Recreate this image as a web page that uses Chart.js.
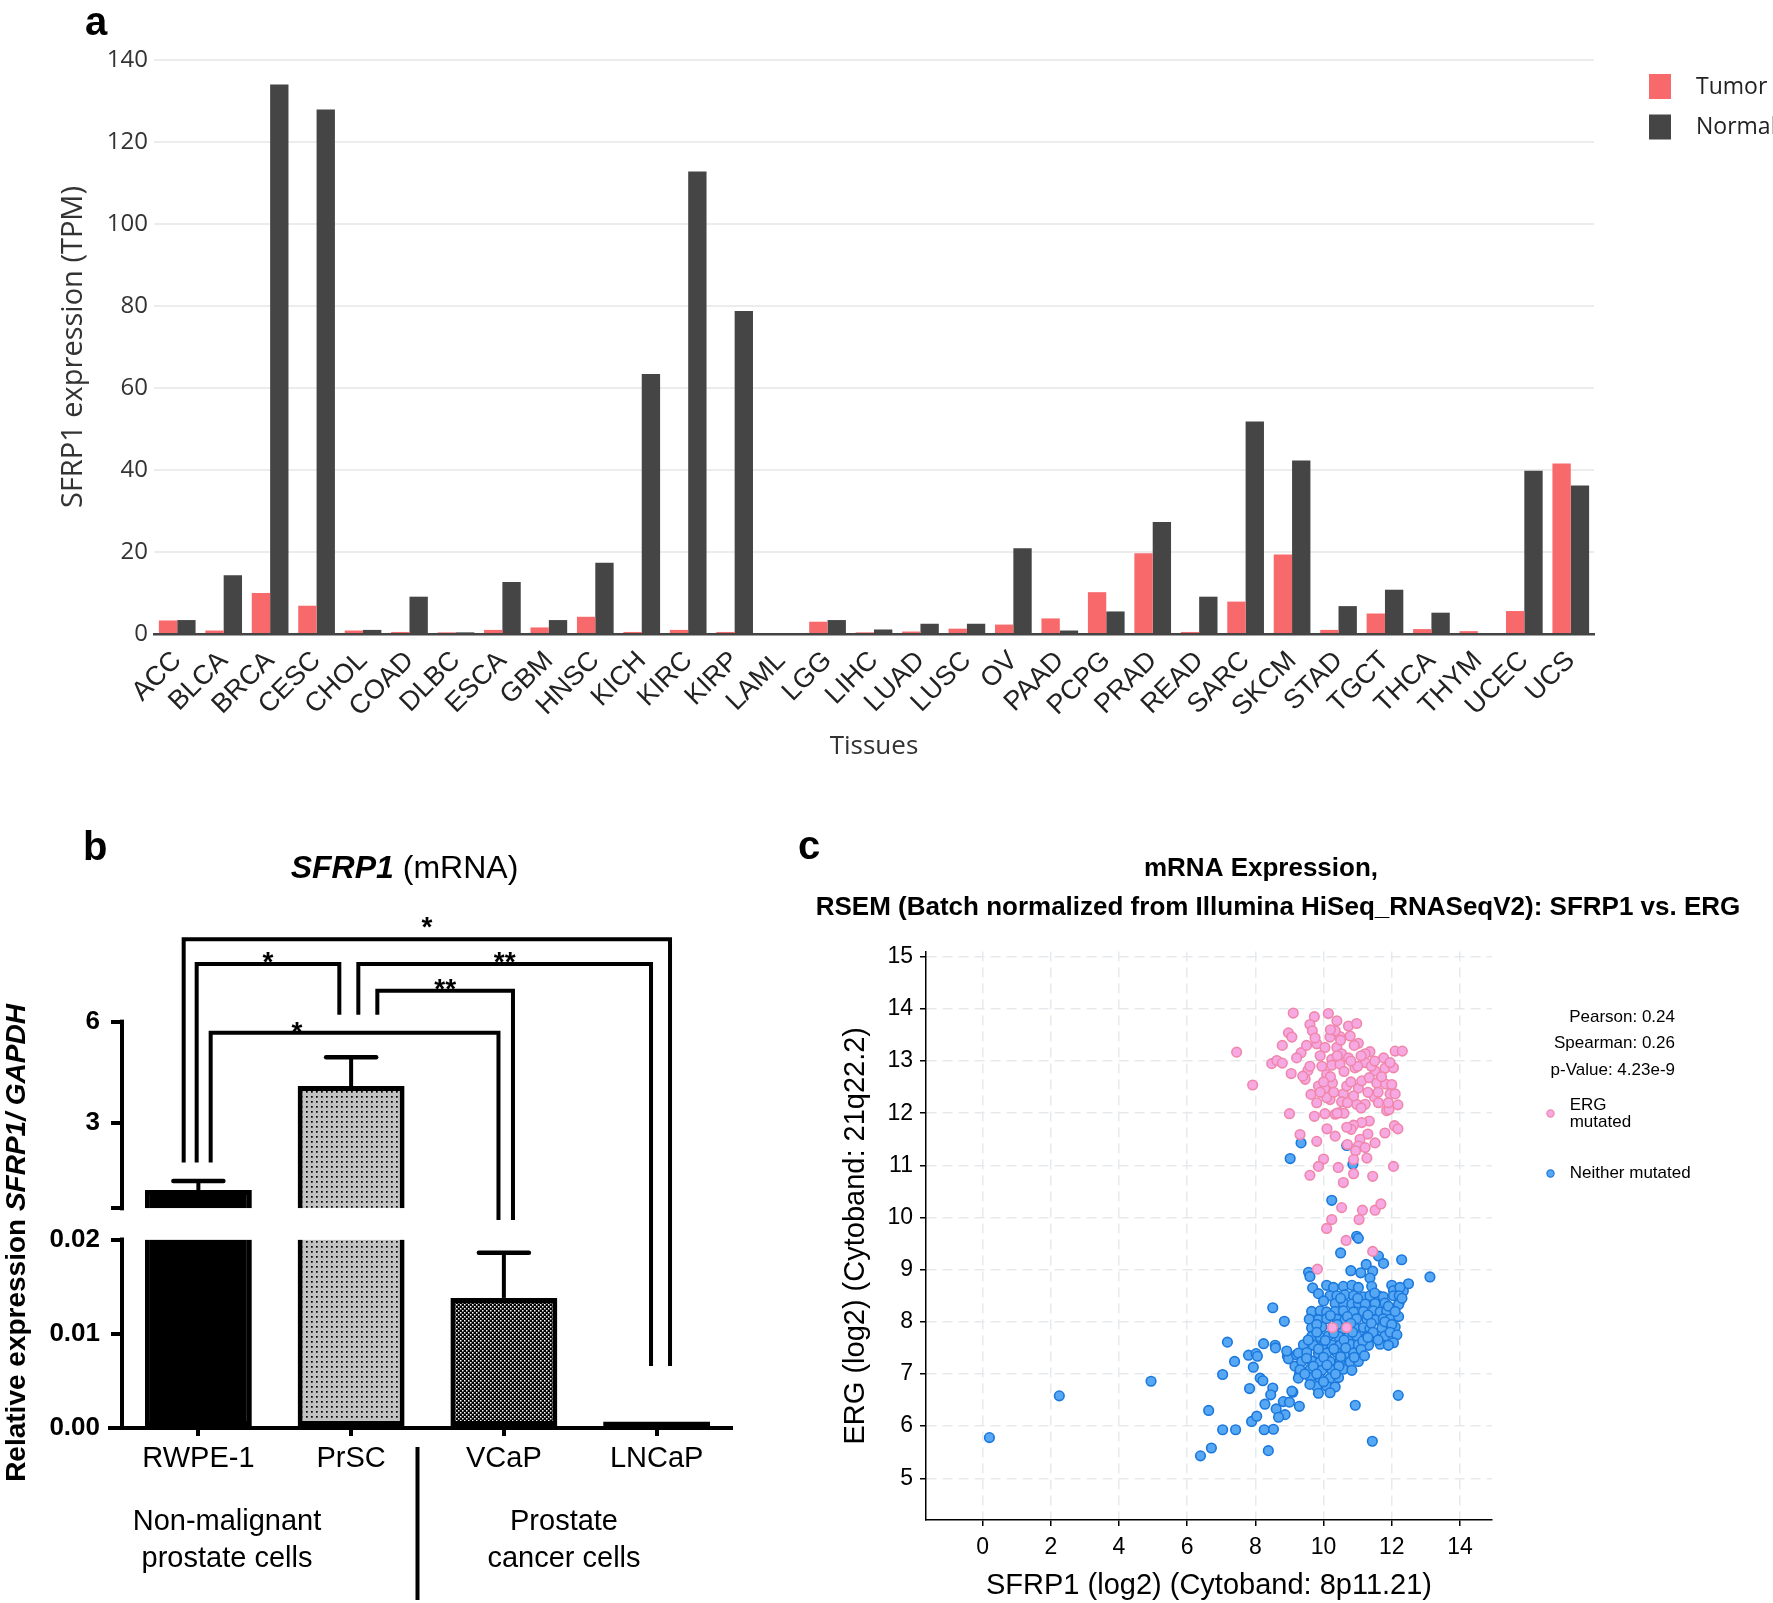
<!DOCTYPE html>
<html><head><meta charset="utf-8">
<script src="https://cdn.jsdelivr.net/npm/chart.js@4.4.1/dist/chart.umd.min.js"></script>
<style>
html,body{margin:0;padding:0;background:#fff;width:1773px;height:1603px;overflow:hidden}
canvas.cv{position:absolute;left:0;top:0;width:1773px;height:1603px}
</style></head><body>
<canvas id="ca" class="cv" width="1773" height="1603"></canvas>
<canvas id="cb" class="cv" width="1773" height="1603"></canvas>
<canvas id="cc" class="cv" width="1773" height="1603"></canvas>
<script>
// ---------------- DATA ----------------
// Panel a
const tissues = ['ACC','BLCA','BRCA','CESC','CHOL','COAD','DLBC','ESCA','GBM','HNSC','KICH','KIRC','KIRP','LAML','LGG','LIHC','LUAD','LUSC','OV','PAAD','PCPG','PRAD','READ','SARC','SKCM','STAD','TGCT','THCA','THYM','UCEC','UCS'];
const tumorTPM  = [3.3,0.85,10.0,6.9,0.85,0.5,0.4,1.0,1.6,4.2,0.5,1.0,0.5,0,3.0,0.4,0.6,1.3,2.3,3.8,10.2,19.7,0.5,7.9,19.4,1.0,5.0,1.2,0.7,5.6,41.6];
const normalTPM = [3.4,14.3,134.0,127.9,1.0,9.1,0.4,12.7,3.4,17.4,63.4,112.8,78.8,0,3.4,1.1,2.5,2.5,20.9,0.85,5.5,27.3,9.1,51.8,42.3,6.8,10.8,5.2,0.2,39.8,36.2];
const tpmTicks = [0,20,40,60,80,100,120,140];

// Panel b
const cellLines = ['RWPE-1','PrSC','VCaP','LNCaP'];
const relExpr = [1.03, 4.10, 0.0138, 0.0007];
const relSEM  = [0.27, 0.85, 0.0048, 0];
const upperTicks = [3, 6];
const lowerTicks = [0, 0.01, 0.02];
const groupNames = [['Non-malignant','prostate cells'],['Prostate','cancer cells']];
const comparisons = [[0,3,'*'],[0,1,'*'],[1,3,'**'],[1,2,'**'],[0,2,'*']];

// Panel c
const corrStats = ['Pearson: 0.24','Spearman: 0.26','p-Value: 4.23e-9'];
const xTicksC = [0,2,4,6,8,10,12,14];
const yTicksC = [5,6,7,8,9,10,11,12,13,14,15];
const ergMutated = [
[9.11,13.92],[9.73,13.85],[10.14,13.91],[10.39,13.77],[9.60,13.70],[9.67,13.58],[10.73,13.67],[10.97,13.72],[8.97,13.54],[9.07,13.46],
[10.19,13.46],[10.48,13.47],[10.78,13.48],[10.34,13.58],[8.79,13.30],[9.80,13.33],[9.75,13.44],[11.02,13.34],[9.34,13.16],[9.21,13.06],
[8.48,12.95],[8.63,13.01],[8.79,12.96],[9.05,12.76],[9.54,12.82],[9.46,12.65],[9.39,12.71],[10.04,13.26],[10.39,13.26],[10.53,13.14],
[10.73,13.06],[10.24,13.03],[9.95,12.90],[10.09,12.74],[10.24,12.92],[10.48,12.94],[10.92,12.87],[11.22,12.97],[11.36,13.18],[11.22,13.14],
[11.51,12.81],[11.80,12.86],[11.76,13.06],[12.10,13.19],[12.31,13.19],[12.05,12.87],[11.95,12.97],[9.85,12.52],[9.63,12.36],[10.04,12.48],
[10.26,12.58],[10.58,12.37],[10.68,12.52],[11.02,12.48],[11.12,12.62],[11.34,12.68],[11.56,12.58],[11.82,12.56],[12.00,12.55],[11.95,12.37],
[12.10,12.37],[11.49,12.31],[11.22,12.17],[10.97,12.17],[10.88,12.33],[10.53,12.22],[10.19,12.26],[10.09,12.30],[10.48,12.01],[10.34,11.98],
[10.04,11.99],[9.73,11.94],[9.00,11.99],[11.85,12.05],[11.92,12.07],[12.18,12.16],[11.61,12.20],[11.34,11.85],[11.12,11.82],[10.88,11.77],
[10.81,11.69],[10.68,11.73],[10.34,11.56],[9.80,11.46],[9.31,11.59],[11.80,11.62],[12.08,11.76],[12.18,11.70],[11.51,11.43],[11.07,11.50],
[11.02,11.37],[11.22,11.34],[10.94,11.28],[11.27,11.14],[10.88,11.11],[10.00,11.12],[9.85,10.98],[10.43,10.96],[12.05,10.98],[7.45,13.17],
[7.92,12.54],
[10.2,12.7],[10.6,12.8],[10.8,12.6],[11.0,12.9],[10.4,13.1],[10.9,13.3],[11.3,12.4],[10.0,12.6],[9.9,13.1],[10.7,12.2],
[11.1,12.1],[11.4,12.9],[10.3,12.4],[9.6,12.9],[9.8,12.2],[10.5,13.4],[11.6,12.4],[11.1,13.1],[10.6,12.0],[10.2,13.6],
[9.5,13.3],[11.7,12.7],[10.8,13.0],[11.5,13.0],[9.9,12.4],[10.4,12.0],[11.9,12.2],[10.1,11.7],[10.7,11.4],[11.3,11.6],
[9.60,10.81],[10.58,10.67],[10.88,10.84],[11.44,10.79],[10.53,10.19],[11.14,10.14],[11.51,10.14],[11.68,10.26],[10.24,9.96],[10.09,9.79],
[11.04,9.96],[10.66,9.56],[11.44,9.35],[9.82,9.01],[10.26,7.89],[10.68,7.89]
];
const neitherMutated = [
[0.2,5.78],[2.25,6.58],[4.94,6.86],
[7.18,7.61],[7.39,7.24],[7.04,6.99],[6.63,6.30],[7.04,5.93],[7.42,5.93],[6.71,5.58],[6.39,5.43],[8.38,5.53],
[10.24,10.33],[10.97,9.64],[11.02,9.60],[10.50,9.32],[11.61,9.26],[11.76,9.12],[12.29,9.19],[13.12,8.86],[9.56,8.95],[9.60,8.87],
[10.80,8.98],[11.09,8.94],[11.25,9.10],[11.44,8.97],[11.36,8.84],[9.68,8.65],[9.85,8.54],[10.09,8.70],[12.00,8.70],[12.05,8.60],
[12.34,8.59],[12.49,8.73],[12.22,8.44],[12.22,8.37],[8.51,8.27],[8.85,8.01],[7.80,7.36],[8.02,7.39],[8.06,7.34],[7.94,7.13],
[8.24,7.58],[8.58,7.55],[8.59,7.50],[8.14,6.92],[8.22,6.87],[7.83,6.72],[8.51,6.73],[8.45,6.60],[8.28,6.42],[8.61,6.33],
[8.82,6.47],[8.87,6.22],[8.68,6.17],[7.89,6.09],[8.04,6.19],[8.26,5.93],[8.53,5.94],[9.10,6.65],[9.00,6.46],[9.29,6.38],
[8.94,7.34],[8.97,7.29],[9.21,7.37],[10.93,6.40],[11.43,5.71],[12.19,6.59],
[8.92,7.44],[9.16,7.15],[9.29,6.99],[9.07,6.67],
[9.34,11.43],[9.02,11.13],[10.68,11.38],[10.86,11.02],
[10.29,8.66],[10.58,8.68],[10.83,8.70],[11.02,8.66],[11.41,8.68],[12.24,8.66],
[10.19,8.50],[10.39,8.50],[10.63,8.52],[10.88,8.50],[11.17,8.48],[11.36,8.50],[11.61,8.50],[11.75,8.48],[12.05,8.50],[12.22,8.50],
[10.34,8.35],[10.58,8.36],[10.83,8.34],[11.02,8.36],[11.22,8.34],[11.51,8.35],[11.80,8.36],[12.20,8.33],
[9.65,8.20],[9.90,8.21],[10.09,8.19],[10.34,8.20],[10.58,8.21],[10.88,8.19],[11.17,8.20],[11.46,8.21],[11.66,8.19],[11.85,8.20],
[9.58,8.05],[9.85,8.04],[10.09,8.06],[10.39,8.05],[10.63,8.04],[10.97,8.06],[11.27,8.05],[11.51,8.04],[11.75,8.06],[11.95,8.05],
[9.65,7.88],[9.95,7.90],[10.29,7.87],[10.53,7.86],[10.92,7.88],[11.17,7.89],[11.36,7.87],[11.71,7.88],[12.10,7.90],
[9.65,7.72],[9.90,7.71],[10.14,7.73],[10.44,7.72],[10.73,7.71],[10.97,7.73],[11.27,7.72],[11.51,7.71],[11.80,7.73],
[9.41,7.56],[9.70,7.55],[10.00,7.57],[10.24,7.56],[10.48,7.55],[10.78,7.57],[11.02,7.56],[11.32,7.55],[11.66,7.57],
[9.26,7.40],[9.51,7.41],[9.85,7.39],[10.09,7.40],[10.39,7.41],[10.63,7.39],[10.88,7.40],
[9.36,7.24],[9.65,7.25],[9.90,7.23],[10.19,7.24],[10.48,7.25],[10.78,7.23],[11.02,7.24],
[9.31,7.08],[9.61,7.09],[9.95,7.07],[10.24,7.08],[10.58,7.09],[10.83,7.07],
[9.26,6.92],[9.61,6.93],[9.90,6.91],[10.19,6.92],[10.44,6.93],
[9.80,6.76],[10.09,6.77],[10.34,6.75],[9.85,6.63],[10.19,6.64],
[10.0,8.40],[10.5,8.45],[11.0,8.45],[11.5,8.55],[11.9,8.30],[10.2,8.12],[10.7,8.10],[11.3,8.13],[11.8,8.00],[9.8,7.95],
[10.4,7.95],[10.8,7.97],[11.4,7.97],[12.0,7.95],[9.8,7.80],[10.3,7.78],[10.85,7.80],[11.45,7.80],[11.95,7.80],[9.55,7.65],
[10.05,7.64],[10.6,7.65],[11.15,7.63],[11.6,7.65],[9.85,7.48],[10.3,7.48],[10.65,7.50],[11.1,7.47],[9.5,7.30],[10.0,7.32],
[10.5,7.33],[10.9,7.32],[9.7,7.15],[10.1,7.17],[10.45,7.15],[9.45,7.00],[9.8,7.00],[10.35,7.00],[9.6,6.80],[10.0,6.85],
[11.2,7.35],[11.3,7.70],[12.2,8.10],[12.15,7.75],[12.05,7.60],[11.9,7.55],[12.1,8.20],[12.3,8.45]
];

// ---------------- STYLE HELPERS ----------------
const FS = '"Liberation Sans", Arial, Helvetica, sans-serif';
const FO = '"Open Sans", "Liberation Sans", sans-serif';
function fixW(w){ return s => { s.width = w; }; }
function fixH(h){ return s => { s.height = h; }; }
function setTicks(list){ return s => { s.ticks = list.map(v => ({value: v})); }; }
function panelLetter(letter, x, y){
  return {id:'letter'+letter, afterDraw(chart){ const c=chart.ctx; c.save(); c.font='bold 40px '+FS; c.fillStyle='#000'; c.textBaseline='alphabetic'; c.textAlign='left'; c.fillText(letter,x,y); c.restore(); }};
}

// ---------------- PANEL A ----------------
const legendA = {id:'legendA', afterDraw(chart){
  const c = chart.ctx; c.save();
  chart.data.datasets.forEach((ds,i)=>{
    const y = 74 + i*40.5;
    c.fillStyle = ds.backgroundColor; c.fillRect(1649, y, 22, 25);
    c.fillStyle = '#222'; c.font = '23px '+FO; c.textBaseline='middle'; c.textAlign='left';
    c.fillText(ds.label, 1696, y+13);
  });
  c.restore();
}};
new Chart(document.getElementById('ca'), {
  type:'bar',
  data:{labels:tissues, datasets:[
    {label:'Tumor', data:tumorTPM, backgroundColor:'#f8696b', categoryPercentage:0.79, barPercentage:1},
    {label:'Normal', data:normalTPM, backgroundColor:'#454545', categoryPercentage:0.79, barPercentage:1}
  ]},
  options:{responsive:false, animation:false, events:[], devicePixelRatio:1,
    layout:{padding:{left:50, top:60, right:179, bottom:837}},
    plugins:{legend:{display:false}, tooltip:{enabled:false}},
    scales:{
      x:{grid:{display:false, drawTicks:false}, border:{color:'#444', width:2.5},
         ticks:{autoSkip:false, minRotation:45, maxRotation:45, color:'#222', padding:11, font:{family:FS, size:27}},
         title:{display:true, text:'Tissues', color:'#333', font:{family:FO, size:26}, padding:{top:0,bottom:4}},
         afterFit:fixH(132)},
      y:{min:0, max:140, afterBuildTicks:setTicks(tpmTicks),
         grid:{color:'#ececec', lineWidth:2, drawTicks:false}, border:{display:false},
         ticks:{color:'#333', padding:6, font:{family:FO, size:24}},
         title:{display:true, text:'SFRP1 expression (TPM)', color:'#333', font:{family:FO, size:29}, padding:{top:6,bottom:0}},
         afterFit:fixW(104)}
    }},
  plugins:[legendA, panelLetter('a',85,35)]
});

// ---------------- PANEL B ----------------
const UPPER_MIN = -0.43, UPPER_MAX = 9.59, BREAK_VAL = 0.49, LOWER_MAX = 0.02;
function makePattern(size, bg, fg, cells){
  const cv = document.createElement('canvas'); cv.width = size; cv.height = size;
  const g = cv.getContext('2d'); g.fillStyle = bg; g.fillRect(0,0,size,size);
  g.fillStyle = fg; cells.forEach(r => g.fillRect(r[0],r[1],r[2],r[3]));
  return g.createPattern(cv, 'repeat');
}
const dotFill = makePattern(5, '#c2c2c2', '#000', [[1,1,1.7,1.7]]);
const checkFill = makePattern(4, '#000', '#fff', [[0,0,1.5,1.5],[2,2,1.5,1.5]]);
const barFills = ['#000', dotFill, checkFill, '#000'];

const annotB = {id:'annotB', afterDraw(chart){
  const c = chart.ctx, xs = chart.scales.x, yT = chart.scales.yTop, yB = chart.scales.yBot, ca = chart.chartArea;
  c.save();
  c.strokeStyle = '#000'; c.fillStyle = '#000';
  // axis lines (broken y axis)
  c.lineWidth = 4; c.lineCap = 'butt';
  c.beginPath(); c.moveTo(ca.left, yT.getPixelForValue(6)-2); c.lineTo(ca.left, yT.getPixelForValue(BREAK_VAL)+2); c.stroke();
  c.beginPath(); c.moveTo(ca.left, yB.getPixelForValue(LOWER_MAX)-2); c.lineTo(ca.left, yB.getPixelForValue(0)); c.stroke();
  c.beginPath(); c.moveTo(108, ca.bottom); c.lineTo(ca.right, ca.bottom); c.stroke();
  // error bars
  relExpr.forEach((v,i)=>{
    if (!relSEM[i]) return;
    const sc = v > BREAK_VAL ? yT : yB;
    const x = xs.getPixelForValue(i), y1 = sc.getPixelForValue(v), y2 = sc.getPixelForValue(v + relSEM[i]);
    c.lineWidth = 4; c.lineCap='butt';
    c.beginPath(); c.moveTo(x, y1); c.lineTo(x, y2); c.stroke();
    c.lineWidth = 4.5; c.lineCap='round';
    c.beginPath(); c.moveTo(x-25, y2); c.lineTo(x+25, y2); c.stroke();
  });
  // significance brackets
  const legEnd = [[yT,1.84],[yT,6.20],[yT,0.145],[yB,0.00659]];
  const geom = [
    {a:-14.7, b:13.4, top:8.43, sdx:0, sdy:-19},
    {a:-1.7, b:-11.8, top:7.70, sdx:0, sdy:-9},
    {a:7.2, b:-5.6, top:7.70, sdx:0, sdy:-9},
    {a:26.2, b:9.1, top:6.91, sdx:0, sdy:-9},
    {a:12.3, b:-5.4, top:5.67, sdx:-57.6, sdy:-8}
  ];
  c.lineWidth = 4; c.lineCap = 'butt'; c.lineJoin = 'miter';
  comparisons.forEach((cmp,k)=>{
    const [i,j,lab] = cmp, g = geom[k];
    const xA = xs.getPixelForValue(i) + g.a, xB = xs.getPixelForValue(j) + g.b;
    const yTopPx = yT.getPixelForValue(g.top);
    const yA = legEnd[i][0].getPixelForValue(legEnd[i][1]);
    const yBp = legEnd[j][0].getPixelForValue(legEnd[j][1]);
    c.beginPath(); c.moveTo(xA, yA); c.lineTo(xA, yTopPx); c.lineTo(xB, yTopPx); c.lineTo(xB, yBp); c.stroke();
    c.font = 'bold 28px '+FS; c.textAlign='center'; c.textBaseline='alphabetic';
    c.fillText(lab, (xA+xB)/2 + g.sdx, yTopPx + g.sdy + 16);
  });
  // title
  c.textBaseline = 'alphabetic'; c.textAlign = 'left';
  const t1 = 'SFRP1', t2 = ' (mRNA)';
  c.font = 'italic bold 32px '+FS; const w1 = c.measureText(t1).width;
  c.font = '32px '+FS; const w2 = c.measureText(t2).width;
  let tx = 404.5 - (w1+w2)/2;
  c.font = 'italic bold 32px '+FS; c.fillText(t1, tx, 878);
  c.font = '32px '+FS; c.fillText(t2, tx + w1, 878);
  // y axis title (rotated, mixed styles)
  c.save(); c.translate(15, 1243); c.rotate(-Math.PI/2);
  const a1 = 'Relative expression ', a2 = 'SFRP1/ GAPDH';
  c.font = 'bold 28px '+FS; const aw1 = c.measureText(a1).width;
  c.font = 'italic bold 28px '+FS; const aw2 = c.measureText(a2).width;
  let ax = -(aw1+aw2)/2;
  c.font = 'bold 28px '+FS; c.fillText(a1, ax, 10);
  c.font = 'italic bold 28px '+FS; c.fillText(a2, ax + aw1, 10);
  c.restore();
  // group labels and divider
  c.font = '29px '+FS; c.textAlign = 'center'; c.textBaseline = 'middle';
  const gx = [227, 564];
  groupNames.forEach((lines,gi)=>{ c.fillText(lines[0], gx[gi], 1522); c.fillText(lines[1], gx[gi], 1559); });
  c.lineWidth = 4; c.beginPath(); c.moveTo((xs.getPixelForValue(1)+xs.getPixelForValue(2))/2 - 10, 1447); c.lineTo((xs.getPixelForValue(1)+xs.getPixelForValue(2))/2 - 10, 1600); c.stroke();
  c.restore();
}};
new Chart(document.getElementById('cb'), {
  type:'bar',
  data:{labels:cellLines, datasets:[
    {data:relExpr.map(v => v > BREAK_VAL ? [BREAK_VAL, v] : null), yAxisID:'yTop', grouped:false,
     backgroundColor:barFills, borderColor:'#000', borderWidth:5, borderSkipped:'bottom', categoryPercentage:0.7, barPercentage:1},
    {data:relExpr.map(v => v > LOWER_MAX ? LOWER_MAX : null), yAxisID:'yBot', grouped:false,
     backgroundColor:barFills, borderColor:'#000', borderWidth:5, borderSkipped:'top', categoryPercentage:0.7, barPercentage:1},
    {data:relExpr.map(v => v <= LOWER_MAX ? v : null), yAxisID:'yBot', grouped:false,
     backgroundColor:barFills, borderColor:'#000', borderWidth:5, borderSkipped:false, categoryPercentage:0.7, barPercentage:1}
  ]},
  options:{responsive:false, animation:false, events:[], devicePixelRatio:1,
    layout:{padding:{left:0, top:900, right:1040, bottom:0}},
    plugins:{legend:{display:false}, tooltip:{enabled:false}},
    scales:{
      x:{type:'category', offset:true,
         grid:{display:true, drawOnChartArea:false, offset:false, color:'#000', lineWidth:4, tickLength:8},
         border:{display:false},
         ticks:{color:'#000', padding:6, font:{family:FS, size:29}},
         afterFit:fixH(175)},
      yBot:{type:'linear', position:'left', stack:'brk', stackWeight:188.5, weight:1, min:0, max:LOWER_MAX,
         afterBuildTicks:setTicks(lowerTicks),
         grid:{drawOnChartArea:false, color:'#000', lineWidth:4, tickLength:11},
         border:{display:false},
         ticks:{color:'#000', padding:11, font:{family:FS, size:26, weight:'bold'}, callback:v => v.toFixed(2)},
         afterFit:fixW(122)},
      yTop:{type:'linear', position:'left', stack:'brk', stackWeight:339.5, weight:2, min:UPPER_MIN, max:UPPER_MAX,
         afterBuildTicks:setTicks([BREAK_VAL].concat(upperTicks)),
         grid:{drawOnChartArea:false, color:'#000', lineWidth:4, tickLength:11},
         border:{display:false},
         ticks:{color:'#000', padding:11, font:{family:FS, size:26, weight:'bold'}, callback:v => upperTicks.includes(v) ? String(v) : ''},
         afterFit:fixW(122)}
    }},
  plugins:[annotB, panelLetter('b',83,860)]
});

// ---------------- PANEL C ----------------
const PINK_FILL = '#f6a8e2', PINK_LINE = '#f087ab', BLUE_FILL = '#57a8f4', BLUE_LINE = '#1b78dc';
const annotC = {id:'annotC', afterDraw(chart){
  const c = chart.ctx; c.save(); c.fillStyle = '#000';
  c.font = 'bold 26px '+FS; c.textAlign='center'; c.textBaseline='middle';
  c.fillText('mRNA Expression,', 1261, 868.5);
  c.fillText('RSEM (Batch normalized from Illumina HiSeq_RNASeqV2): SFRP1 vs. ERG', 1278, 907.5);
  c.font = '17px '+FS; c.textAlign='right';
  corrStats.forEach((s,i)=> c.fillText(s, 1675, [1017.5,1043.5,1070.5][i]));
  const ds = chart.data.datasets;
  const items = [[ds[0], 1113.5, ['ERG','mutated']], [ds[1], 1173.5, [ds[1].label]]];
  items.forEach(([d, y, lines])=>{
    c.beginPath(); c.arc(1550.5, y, 3.6, 0, Math.PI*2); c.fillStyle = d.pointBackgroundColor; c.fill();
    c.lineWidth = 1.2; c.strokeStyle = d.pointBorderColor; c.stroke();
    c.fillStyle = '#000'; c.textAlign='left';
    if (lines.length === 2){ c.fillText(lines[0], 1569.7, y-8); c.fillText(lines[1], 1569.7, y+9); }
    else c.fillText(lines[0], 1569.7, y);
  });
  c.restore();
}};
new Chart(document.getElementById('cc'), {
  type:'scatter',
  data:{datasets:[
    {label:'ERG mutated', data:ergMutated.map(p => ({x:p[0], y:p[1]})),
     pointBackgroundColor:PINK_FILL, pointBorderColor:PINK_LINE, pointBorderWidth:1.6, pointRadius:4.8},
    {label:'Neither mutated', data:neitherMutated.map(p => ({x:p[0], y:p[1]})),
     pointBackgroundColor:BLUE_FILL, pointBorderColor:BLUE_LINE, pointBorderWidth:1.6, pointRadius:4.8}
  ]},
  options:{responsive:false, animation:false, events:[], devicePixelRatio:1,
    layout:{padding:{left:830, top:951.5, right:281, bottom:0}},
    plugins:{legend:{display:false}, tooltip:{enabled:false}},
    scales:{
      x:{type:'linear', min:-1.66, max:14.94, afterBuildTicks:setTicks(xTicksC),
         grid:{color:'#e6e9ee', lineWidth:1.5, tickLength:6, tickColor:'#000', tickWidth:1.5},
         border:{color:'#000', width:1.5, dash:[10,6]},
         ticks:{color:'#000', padding:8, font:{family:FS, size:23}},
         title:{display:true, text:'SFRP1 (log2) (Cytoband: 8p11.21)', color:'#000', font:{family:FS, size:29}, padding:{top:0,bottom:0}},
         afterFit:fixH(83)},
      y:{type:'linear', min:4.2, max:15.1, afterBuildTicks:setTicks(yTicksC),
         grid:{color:'#e6e9ee', lineWidth:1.5, tickLength:6, tickColor:'#000', tickWidth:1.5},
         border:{color:'#000', width:1.5, dash:[10,6]},
         ticks:{color:'#000', padding:7, font:{family:FS, size:23}},
         title:{display:true, text:'ERG (log2) (Cytoband: 21q22.2)', color:'#000', font:{family:FS, size:29}, padding:{top:9,bottom:0}},
         afterFit:fixW(96)}
    }},
  plugins:[annotC, panelLetter('c',798,859)]
});
</script>
</body></html>
